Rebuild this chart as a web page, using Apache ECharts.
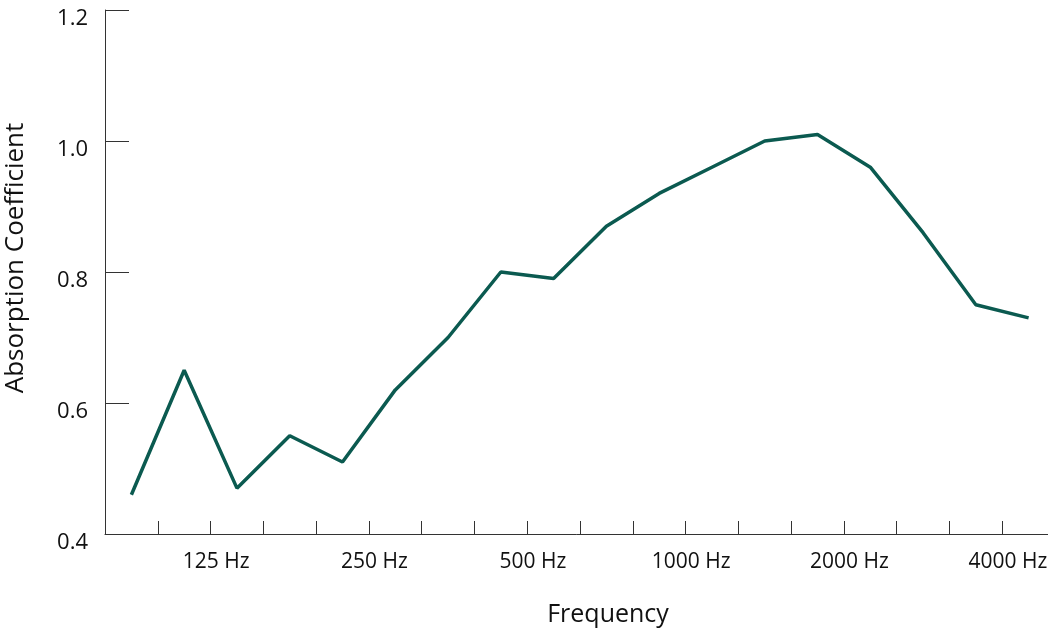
<!DOCTYPE html>
<html lang="en">

<head>
    <meta charset="UTF-8">
    <title>Absorption Coefficient</title>
    <style>
        html, body { margin: 0; padding: 0; background: #fff; }
    </style>
</head>

<body>

    <div id="chart" style="width: 1048px; height: 630px;"></div>

    <script src="https://cdn.jsdelivr.net/npm/echarts@6/dist/echarts.min.js"></script>
    <script>
        // 1/3 octave bands
        const bands = ['100', '125', '160', '200', '250', '315', '400', '500', '630',
            '800', '1000', '1250', '1600', '2000', '2500', '3150', '4000', '5000'];
        const shownLabels = ['125', '250', '500', '1000', '2000', '4000'];
        const absorption = [0.46, 0.65, 0.47, 0.55, 0.51, 0.62, 0.70, 0.80, 0.79,
            0.87, 0.92, 0.96, 1.00, 1.01, 0.96, 0.86, 0.75, 0.73];

        const myChart = echarts.init(document.getElementById('chart'));

        const font = '"Open Sans", "Noto Sans", sans-serif';

        const option = {
            animation: false,
            grid: {
                left: 105,
                right: -7,
                top: 10,
                bottom: 96,
                containLabel: false,
                outerBoundsMode: 'none'
            },
            xAxis: {
                type: 'category',
                data: bands,
                boundaryGap: true,
                name: 'Frequency',
                nameLocation: 'middle',
                nameGap: 68,
                nameTextStyle: {
                    color: '#111',
                    fontSize: 25,
                    fontWeight: 500,
                    fontFamily: font,
                    padding: [0, 0, 0, 56]
                },
                axisLine: { show: true, lineStyle: { color: '#333', width: 1 } },
                axisTick: {
                    show: true,
                    inside: true,
                    length: 13,
                    interval: 0,
                    lineStyle: { color: '#333', width: 1 }
                },
                axisLabel: {
                    interval: 0,
                    color: '#111',
                    fontSize: 21,
                    fontFamily: font,
                    margin: 18,
                    // label sits on the band edge to the right of its point
                    padding: [0, 0, 0, 64],
                    formatter: function (v) {
                        return shownLabels.indexOf(v) >= 0 ? v + ' Hz' : '';
                    }
                }
            },
            yAxis: {
                type: 'value',
                min: 0.4,
                max: 1.2,
                interval: 0.2,
                name: 'Absorption Coefficient',
                nameLocation: 'middle',
                nameGap: 76,
                nameRotate: 90,
                nameTextStyle: {
                    color: '#111',
                    fontSize: 26,
                    fontWeight: 500,
                    fontFamily: font,
                    padding: [0, 0, 0, 28]
                },
                splitLine: { show: false },
                axisLine: { show: true, lineStyle: { color: '#333', width: 1 } },
                axisTick: {
                    show: true,
                    inside: true,
                    length: 24,
                    lineStyle: { color: '#333', width: 1 }
                },
                axisLabel: {
                    color: '#111',
                    fontSize: 22,
                    fontFamily: font,
                    margin: 17,
                    verticalAlign: 'top',
                    lineHeight: 18,
                    formatter: function (v) {
                        return v.toFixed(1);
                    }
                }
            },
            series: [{
                type: 'line',
                data: absorption,
                symbol: 'none',
                lineStyle: { color: '#0b5a50', width: 3.5 }
            }]
        };

        myChart.setOption(option);
    </script>
</body>

</html>
